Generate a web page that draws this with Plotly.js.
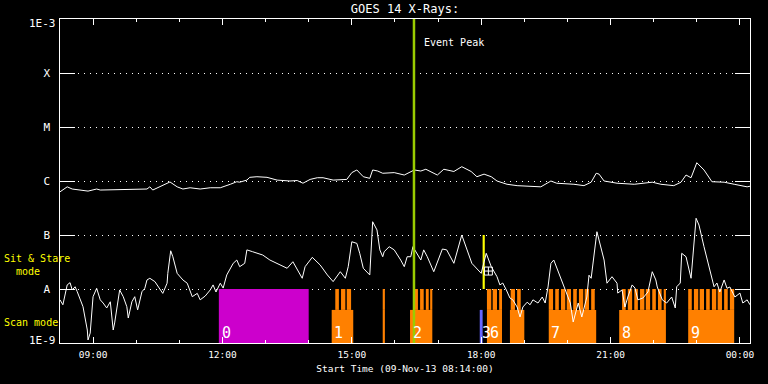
<!DOCTYPE html>
<html>
<head>
<meta charset="utf-8">
<script src="https://cdn.plot.ly/plotly-3.0.1.min.js"></script>
<style>
html,body{margin:0;padding:0;background:#000;}
#chart{width:768px;height:384px;}
</style>
</head>
<body>
<div id="chart"></div>
<script>
// ---------- DATA ----------
// GOES 14 long channel (1-8 A), W/m^2
const longTimes = ['08:14','08:24','08:31','08:53','09:05','09:10','10:15','10:19','10:23','10:47','10:57','11:05','11:15','11:29','11:43','11:57','12:11','12:20','12:24','12:34','12:38','12:48','13:02','13:16','13:34','13:44','13:52','14:02','14:12','14:20','14:34','14:53','15:00','15:07','15:16','15:25','15:29','15:36','15:43','15:59','16:13','16:27','16:36','16:43','16:59','17:08','17:22','17:33','17:46','17:54','18:04','18:14','18:22','18:36','18:50','19:23','19:37','19:45','20:09','20:23','20:33','20:40','20:44','20:51','21:09','21:33','21:58','22:10','22:28','22:38','22:45','22:52','23:00','23:10','23:21','23:38','23:52','00:10','00:14'];
const longFlux = [6.3e-7,7.8e-7,7.1e-7,6.5e-7,7.1e-7,6.8e-7,7.1e-7,7.8e-7,6.8e-7,9.6e-7,7.8e-7,7.1e-7,7.5e-7,7.1e-7,7.5e-7,7.5e-7,8.7e-7,9.7e-7,9.5e-7,1.04e-6,1.17e-6,1.2e-6,1.17e-6,1.04e-6,1.0e-6,1.02e-6,9.1e-7,1.07e-6,1.15e-6,1.15e-6,1.04e-6,1.07e-6,1.43e-6,1.6e-6,1.2e-6,1.12e-6,1.6e-6,1.53e-6,1.39e-6,1.43e-6,1.29e-6,1.6e-6,1.53e-6,1.65e-6,1.29e-6,1.65e-6,1.5e-6,1.84e-6,1.5e-6,1.2e-6,1.34e-6,1.2e-6,1.0e-6,8.7e-7,8.2e-7,7.8e-7,1.0e-6,9.1e-7,8.7e-7,8.2e-7,9.5e-7,1.39e-6,1.34e-6,1.0e-6,9.1e-7,8.7e-7,9.5e-7,8.7e-7,8.2e-7,9.5e-7,1.29e-6,1.15e-6,2.18e-6,1.6e-6,9.7e-7,9.5e-7,8.7e-7,7.8e-7,8.0e-7];

// GOES 14 short channel (0.5-4 A), W/m^2
const shortTimes = ['08:14','08:18','08:24','08:28','08:31','08:35','08:38','08:42','08:46','08:52','08:53','08:56','08:58','09:00','09:05','09:10','09:14','09:19','09:24','09:28','09:30','09:37','09:42','09:47','09:49','09:54','09:58','10:02','10:08','10:12','10:15','10:19','10:26','10:33','10:37','10:43','10:44','10:48','10:51','10:57','11:05','11:11','11:18','11:25','11:29','11:36','11:43','11:47','11:51','11:57','12:01','12:06','12:15','12:20','12:24','12:31','12:34','12:42','12:56','13:06','13:16','13:30','13:38','13:44','13:51','13:55','14:05','14:16','14:26','14:34','14:44','14:51','14:55','15:00','15:07','15:11','15:16','15:25','15:29','15:35','15:39','15:43','15:45','15:52','15:59','16:08','16:13','16:17','16:22','16:25','16:31','16:36','16:40','16:45','16:54','17:06','17:12','17:22','17:33','17:40','17:47','18:00','18:07','18:14','18:22','18:26','18:30','18:35','18:40','18:44','18:50','18:54','18:58','19:04','19:08','19:12','19:19','19:25','19:29','19:33','19:37','19:41','19:48','19:55','19:59','20:04','20:08','20:15','20:20','20:27','20:30','20:33','20:41','20:51','20:55','21:02','21:09','21:10','21:16','21:20','21:24','21:30','21:34','21:38','21:45','21:52','21:58','22:03','22:05','22:12','22:18','22:25','22:30','22:32','22:37','22:39','22:45','22:52','22:59','23:03','23:10','23:20','23:24','23:28','23:32','23:38','23:42','23:46','23:53','00:00','00:04','00:10','00:14'];
const shortFlux = [6.3e-9,5.1e-9,1.19e-8,1.31e-8,9.6e-9,1.1e-8,8.9e-9,6.3e-9,4.7e-9,1.74e-9,1.14e-9,1.53e-9,3.07e-9,7.2e-9,1.03e-8,6.3e-9,5.5e-9,4.45e-9,5.8e-9,1.74e-9,2.35e-9,9.6e-9,7.2e-9,4.7e-9,2.9e-9,5.8e-9,7.2e-9,4.1e-9,8.9e-9,1.03e-8,1.47e-8,1.58e-8,1.37e-8,1.03e-8,8.3e-9,1.28e-8,1.95e-8,5.1e-8,3.96e-8,1.95e-8,1.47e-8,1.28e-8,7.2e-9,8.3e-9,6.3e-9,7.4e-9,9.6e-9,1.19e-8,8.8e-9,1.28e-8,1.04e-8,1.82e-8,2.99e-8,3.44e-8,2.59e-8,2.99e-8,5.3e-8,4.9e-8,4.26e-8,3.44e-8,2.99e-8,2.42e-8,3.2e-8,2.25e-8,1.58e-8,2.59e-8,3.86e-8,2.78e-8,1.82e-8,1.37e-8,2.09e-8,1.58e-8,2.59e-8,7.5e-8,7.0e-8,4.58e-8,2.42e-8,1.82e-8,1.76e-7,1.24e-7,5.3e-8,3.96e-8,4.9e-8,6.07e-8,5.3e-8,3.44e-8,2.59e-8,3.96e-8,3.96e-8,6.07e-8,4.58e-8,3.44e-8,5.3e-8,3.96e-8,2.09e-8,5.5e-8,5.3e-8,2.99e-8,1.0e-7,5.3e-8,2.99e-8,1.95e-8,4.58e-8,2.59e-8,1.69e-8,1.19e-8,1.29e-8,9.6e-9,6.8e-9,6.3e-9,4.64e-9,3.03e-9,4.64e-9,5.7e-9,5.1e-9,6.3e-9,5.5e-9,7.1e-9,5.5e-9,1.09e-8,2.99e-8,3.44e-8,1.95e-8,1.1e-8,8.4e-9,5.5e-9,2.45e-9,5.5e-9,3.03e-9,7.1e-9,1.8e-8,1.58e-8,1.15e-7,3.44e-8,1.28e-8,1.69e-8,1.28e-8,8.4e-9,9.6e-9,4.64e-9,7.1e-9,1.19e-8,1.04e-8,6.3e-9,6.8e-9,8.8e-9,2.09e-8,1.47e-8,1.09e-8,6.3e-9,5.5e-9,7.1e-9,4.45e-9,1.1e-8,1.29e-8,4.58e-8,3.96e-8,1.58e-8,2.04e-7,1.53e-7,6.07e-8,1.69e-8,1.1e-8,1.29e-8,8.8e-9,1.47e-8,1.03e-8,1.09e-8,7.1e-9,8.4e-9,5.5e-9,6.3e-9,5.1e-9];

// Observation blocks (HH:MM)
const sitStart = ['11:55'];              // magenta block "0"
const sitEnd   = ['14:00'];
const scanStart = ['14:32','15:43','16:21','18:08','18:40','19:34','21:12','22:48'];
const scanEnd   = ['15:02','15:46','16:52','18:29','19:00','20:40','22:17','23:52'];
const stareStart = ['14:37','14:45','14:53','15:43','16:26','16:35','16:43','16:49','18:08','18:16','18:25','18:41','18:50',
  '19:34','19:43','19:51','19:59','20:08','20:16','20:24','20:33',
  '21:16','21:24','21:33','21:41','21:49','21:58','22:06','22:14',
  '22:48','22:56','23:04','23:13','23:21','23:29','23:38','23:46'];
const stareEnd = ['14:42','14:51','14:59','15:46','16:32','16:40','16:47','16:52','18:14','18:22','18:29','18:47','18:55',
  '19:40','19:48','19:57','20:05','20:13','20:22','20:30','20:38',
  '21:21','21:30','21:38','21:47','21:55','22:03','22:11','22:17',
  '22:53','23:02','23:10','23:18','23:27','23:35','23:43','23:52'];
const blueStart = ['17:58'], blueEnd = ['18:02'];
const yellowStart = ['18:02'], yellowEnd = ['18:05'];
const obsLabels = ['0','1','2','3','6','7','8','9'];
const obsLabelTimes = ['11:56','14:33','16:22','17:59','18:09','19:35','21:13','22:49'];
const eventPeak = '16:26:30';
const flareMarkTime = ['18:10'], flareMarkFlux = [2.15e-8];

// y tick labels (GOES classes)
const yTickVals = [1e-8,1e-7,1e-6,1e-5,1e-4];
const yTickText = ['A','B','C','M','X'];
const yEndLabels = ['1E-9','1E-3'];

// flux levels for the mode bars
const FLOOR = 1e-9, SCAN_TOP = 4.1e-9, STARE_TOP = 1e-8, YELLOW_TOP = 1e-7, CEIL = 1e-3;

// ---------- HELPERS ----------
function toMs(t){
  const p = t.split(':').map(Number);
  const day = p[0] < 8 ? 10 : 9;
  return Date.UTC(2013, 10, day, p[0], p[1], p[2]||0);
}
function toDate(t){ return new Date(toMs(t)).toISOString().replace('T',' ').replace('Z',''); }

function bars(starts, ends, lo, hi, color){
  return {
    type:'bar', x: starts.map(toDate), width: starts.map((s,i)=>toMs(ends[i])-toMs(s)),
    offset: 0, base: starts.map(()=>lo), y: starts.map(()=>hi-lo),
    marker:{color: color, line:{width:0}}, hoverinfo:'skip', showlegend:false
  };
}

const MONO = 'DejaVu Sans Mono, monospace';

const traces = [
  bars(sitStart, sitEnd, FLOOR, STARE_TOP, '#cc00cc'),
  bars(scanStart, scanEnd, FLOOR, SCAN_TOP, '#ff8000'),
  bars(stareStart, stareEnd, SCAN_TOP, STARE_TOP, '#ff8000'),
  bars(blueStart, blueEnd, FLOOR, SCAN_TOP, '#6666ff'),
  bars(yellowStart, yellowEnd, STARE_TOP, YELLOW_TOP, '#ffff00'),
  {type:'scatter', mode:'lines', x: longTimes.map(toDate), y: longFlux, line:{color:'#ffffff', width:1}, hoverinfo:'skip', showlegend:false},
  {type:'scatter', mode:'lines', x: shortTimes.map(toDate), y: shortFlux, line:{color:'#ffffff', width:1}, hoverinfo:'skip', showlegend:false},
  {type:'scatter', mode:'lines', x: [toDate(eventPeak), toDate(eventPeak)], y: [FLOOR, CEIL], line:{color:'#99cc00', width:2.5}, hoverinfo:'skip', showlegend:false},
  {type:'scatter', mode:'markers', x: flareMarkTime.map(toDate), y: flareMarkFlux, marker:{symbol:'square-cross-open', size:8, color:'#ffffff', line:{width:1, color:'#ffffff'}}, hoverinfo:'skip', showlegend:false}
];

const annotations = [
  {xref:'x', yref:'y', x: toDate(eventPeak), y: Math.log10(3.6e-4), text:'Event Peak', showarrow:false, xanchor:'left', yanchor:'middle', xshift:8, font:{family:MONO, size:10, color:'#ffffff'}},
  {xref:'paper', yref:'paper', x:0, y:0.242, xshift:-58, text:'Sit &amp; Stare<br>\u00a0\u00a0mode', align:'left', showarrow:false, xanchor:'left', yanchor:'middle', font:{family:MONO, size:10, color:'#ffff00'}},
  {xref:'paper', yref:'paper', x:0, y:0.062, xshift:-58, text:'Scan mode', align:'left', showarrow:false, xanchor:'left', yanchor:'middle', font:{family:MONO, size:10, color:'#ffff00'}},
  {xref:'paper', yref:'paper', x:0, y:0, xshift:-2, yshift:3, text:yEndLabels[0], showarrow:false, xanchor:'right', yanchor:'middle', font:{family:MONO, size:11, color:'#ffffff'}},
  {xref:'paper', yref:'paper', x:0, y:1, xshift:-2, yshift:-4, text:yEndLabels[1], showarrow:false, xanchor:'right', yanchor:'middle', font:{family:MONO, size:11, color:'#ffffff'}}
];
obsLabels.forEach((lab,i)=>{
  annotations.push({xref:'x', yref:'y', x: toDate(obsLabelTimes[i]), y: Math.log10(1.55e-9), text: lab, showarrow:false, xanchor:'left', yanchor:'middle', font:{family:MONO, size:15, color:'#ffffff'}});
});

const layout = {
  width:768, height:384,
  margin:{l:60, r:18, t:19, b:41, pad:0},
  paper_bgcolor:'#000000', plot_bgcolor:'#000000',
  barmode:'overlay', hovermode:false, showlegend:false,
  title:{text:'GOES 14 X-Rays:', x:0.5, xref:'paper', y:0.976, yref:'container', yanchor:'middle', font:{family:MONO, size:12, color:'#ffffff'}},
  xaxis:{
    type:'date', range:[toDate('08:14'), toDate('00:14')],
    tick0:'2013-11-09 00:00', dtick:10800000, tickformat:'%H:%M',
    ticks:'inside', ticklen:6, tickwidth:1, tickcolor:'#ffffff', ticklabelstandoff:3,
    minor:{dtick:3600000, tick0:'2013-11-09 00:00', ticks:'inside', ticklen:3, tickcolor:'#ffffff', showgrid:false},
    showline:true, linecolor:'#ffffff', linewidth:1, mirror:'ticks', showgrid:false, zeroline:false,
    tickfont:{family:MONO, size:9.5, color:'#ffffff'},
    title:{text:'Start Time (09-Nov-13 08:14:00)', standoff:5, font:{family:MONO, size:9.5, color:'#ffffff'}},
    automargin:false, fixedrange:true
  },
  yaxis:{
    type:'log', range:[-9, -3],
    tickvals: yTickVals,
    ticktext: yTickText.map(t => t + '\u00a0'),
    ticks:'inside', ticklen:15, tickwidth:1, tickcolor:'#ffffff',
    showline:true, linecolor:'#ffffff', linewidth:1, mirror:'ticks',
    showgrid:true, gridcolor:'#ffffff', gridwidth:1, griddash:'1px,5px', zeroline:false,
    tickfont:{family:MONO, size:11, color:'#ffffff'},
    automargin:false, fixedrange:true
  },
  annotations: annotations
};

Plotly.newPlot('chart', traces, layout, {staticPlot:true, displayModeBar:false});
</script>
</body>
</html>
